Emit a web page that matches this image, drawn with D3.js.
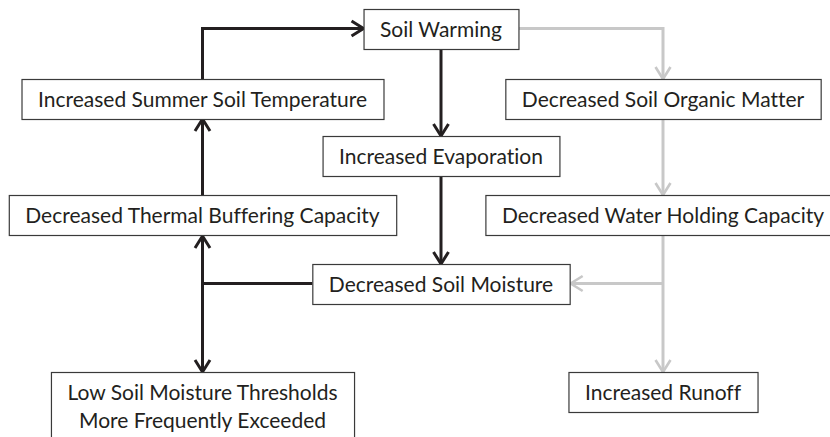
<!DOCTYPE html>
<html>
<head>
    <meta charset="UTF-8">
    <title>Soil warming feedbacks</title>
    <script src="https://cdn.jsdelivr.net/npm/d3@7"></script>
    <style>
        body { margin: 0; background: white; }
        text { font-family: Lato, "Open Sans", sans-serif; fill: #231f20; font-variant-ligatures: none; }
    </style>
</head>
<body>
    <div id="my_dataviz"></div>
    <script>

        // box labels (a "|" splits a label into two lines)
        var labels = ["Soil Warming", "Increased Summer Soil Temperature", "Increased Evaporation",
            "Decreased Soil Organic Matter", "Decreased Thermal Buffering Capacity",
            "Decreased Water Holding Capacity", "Decreased Soil Moisture",
            "Low Soil Moisture Thresholds|More Frequently Exceeded", "Increased Runoff"]
        var nodeCol = ["M", "L", "M", "R", "L", "R", "M", "L", "R"]
        var nodeRow = ["r0", "r1", "r2", "r1", "r3", "r3", "r4", "r5", "r5"]

        // links: from box, to box, colour group
        var linkFrom = [1, 4, 0, 2, 0, 3, 5]
        var linkTo = [0, 1, 2, 6, 3, 5, 8]
        var linkKind = ["dark", "dark", "dark", "dark", "light", "light", "light"]

        var width = 830, height = 437;
        var fontSize = 21, padX = 16.5, boxH = 39, lineGap = 28;

        var x = d3.scaleOrdinal().domain(["L", "M", "R"]).range([202.5, 441, 663]);
        var y = d3.scaleOrdinal().domain(["r0", "r1", "r2", "r3", "r4", "r5"]).range([9, 79, 136, 195, 264, 372]);
        var colour = { dark: "#231f20", light: "#c8c8c8" };

        var svg = d3.select("#my_dataviz")
            .append("svg")
            .attr("width", width)
            .attr("height", height);

        // open chevron arrow heads
        var defs = svg.append("defs");
        Object.keys(colour).forEach(function (k) {
            defs.append("marker")
                .attr("id", "arrow-" + k)
                .attr("viewBox", "-16 -10 20 20")
                .attr("refX", 0).attr("refY", 0)
                .attr("markerWidth", 20).attr("markerHeight", 20)
                .attr("markerUnits", "userSpaceOnUse")
                .attr("orient", "auto-start-reverse")
                .append("path")
                .attr("d", "M-12,-7.5L0,0L-12,7.5")
                .attr("fill", "none")
                .attr("stroke", colour[k])
                .attr("stroke-width", k == "dark" ? 3 : 2.6);
        });

        var linkLayer = svg.append("g");
        var boxLayer = svg.append("g");

        // build boxes, sized from their text
        var nodes = labels.map(function (l, i) {
            return { label: l, lines: l.split("|"), cx: x(nodeCol[i]), top: y(nodeRow[i]) };
        });

        var box = boxLayer.selectAll("g")
            .data(nodes)
            .enter()
            .append("g");

        var rects = box.append("rect")
            .attr("fill", "white")
            .attr("stroke", "#3a3a3a")
            .attr("stroke-width", 1.2);

        box.each(function (d) {
            var g = d3.select(this);
            var w = 0;
            d.lines.forEach(function (line, j) {
                var t = g.append("text")
                    .attr("x", d.cx)
                    .attr("y", d.top + 27.5 + j * lineGap)
                    .attr("text-anchor", "middle")
                    .style("font-size", fontSize + "px")
                    .text(line);
                w = Math.max(w, t.node().getComputedTextLength());
            });
            d.w = w + 2 * padX;
            d.h = boxH + (d.lines.length - 1) * lineGap + 1;
            d.left = d.cx - d.w / 2;
            d.right = d.cx + d.w / 2;
            d.bottom = d.top + d.h;
            d.cy = d.top + boxH / 2;
        });

        rects.attr("x", function (d) { return d.left + 0.5 })
            .attr("y", function (d) { return d.top + 0.5 })
            .attr("width", function (d) { return d.w })
            .attr("height", function (d) { return d.h });

        // route each link: straight down / up in a column, or an elbow via the source row
        function route(a, b) {
            if (a.cx == b.cx) {
                if (a.top > b.top) return [[a.cx, a.top], [b.cx, b.bottom]];
                return [[a.cx, a.bottom], [b.cx, b.top]];
            }
            if (b.cx > a.cx && b.top == a.top) return [[a.right, a.cy], [b.left, b.cy]];
            if (a.top > b.top) return [[a.cx, a.top], [a.cx, b.cy], [b.left, b.cy]];
            return [[a.right, a.cy], [b.cx, a.cy], [b.cx, b.top]];
        }

        var line = d3.line();
        linkFrom.forEach(function (f, i) {
            linkLayer.append("path")
                .attr("d", line(route(nodes[f], nodes[linkTo[i]])))
                .attr("fill", "none")
                .attr("stroke", colour[linkKind[i]])
                .attr("stroke-width", 3)
                .attr("marker-end", "url(#arrow-" + linkKind[i] + ")");
        });

        // soil moisture feeds both thermal buffering and the thresholds box
        var moist = nodes[6], thermal = nodes[4], low = nodes[7], water = nodes[5], runoff = nodes[8];
        linkLayer.append("path")
            .attr("d", line([[moist.left, moist.cy], [thermal.cx, moist.cy]]))
            .attr("fill", "none").attr("stroke", colour.dark).attr("stroke-width", 3);
        linkLayer.append("path")
            .attr("d", line([[thermal.cx, thermal.bottom + 1], [low.cx, low.top]]))
            .attr("fill", "none").attr("stroke", colour.dark).attr("stroke-width", 3)
            .attr("marker-start", "url(#arrow-dark)")
            .attr("marker-end", "url(#arrow-dark)");

        // water holding capacity branches back into soil moisture
        linkLayer.append("path")
            .attr("d", line([[water.cx, moist.cy], [moist.right + 1, moist.cy]]))
            .attr("fill", "none").attr("stroke", colour.light).attr("stroke-width", 3)
            .attr("marker-end", "url(#arrow-light)");

    </script>
</body>
</html>
